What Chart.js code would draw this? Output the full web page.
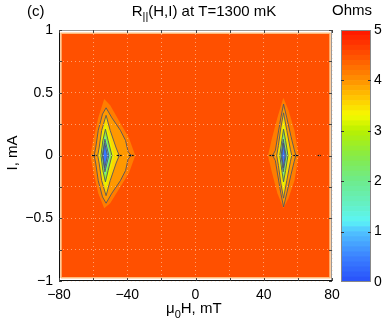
<!DOCTYPE html>
<html>
<head>
<meta charset="utf-8">
<script src="https://cdn.jsdelivr.net/npm/chart.js@4/dist/chart.umd.min.js"></script>
<style>
  html, body { margin: 0; padding: 0; background: #fff; }
  #wrap { position: relative; width: 384px; height: 327px; }
  #main { position: absolute; left: 0; top: 0; }
  #cbar { position: absolute; left: 336px; top: 0; }
</style>
</head>
<body>
<div id="wrap">
  <canvas id="main" width="384" height="327"></canvas>
  <canvas id="cbar" width="48" height="327"></canvas>
</div>
<script>
/* global Chart */

// ---------------------- Data ----------------------

const H_RANGE = [-80, 80];          // mT
const I_RANGE = [-1, 1];            // mA
const R_RANGE = [0, 5];             // Ohms

// plateau value of R over the measured window
const plateauLevel = 4.5;
const plateauCorners = [[-78.8, -0.975], [-78.8, 0.975], [78.8, 0.975], [78.8, -0.975]];

// contour levels, outermost first (Ohms)
const contourLevels = [4.15, 3.95, 3.55, 3.2, 2.6, 1.6, 1.1, 0.4];
const contourLined  = [false, true, true, false, true, false, true, true];

// dip near H = -52 mT
const leftContours = [
  [[-61.5, 0], [-60, 0.12], [-57, 0.3], [-53.5, 0.45], [-50, 0.4], [-45, 0.28], [-39, 0.14], [-35.3, 0],
   [-39, -0.14], [-45, -0.27], [-50, -0.38], [-53.5, -0.42], [-57, -0.3], [-60, -0.12]],
  [[-59.4, 0], [-58.5, 0.06], [-57, 0.2], [-54.5, 0.33], [-52.4, 0.38], [-49, 0.3], [-44, 0.2], [-41, 0.12],
   [-39.5, 0.03], [-37.7, 0], [-39.5, -0.03], [-41, -0.12], [-44, -0.2], [-49, -0.3], [-52.4, -0.38],
   [-54.5, -0.33], [-57, -0.2], [-58.5, -0.06]],
  [[-57.3, 0], [-56.5, 0.06], [-55, 0.2], [-52.4, 0.32], [-50, 0.2], [-46.5, 0.06], [-44.7, 0],
   [-46.5, -0.06], [-50, -0.2], [-52.4, -0.32], [-55, -0.2], [-56.5, -0.06]],
  [[-56, 0], [-54.8, 0.15], [-52.6, 0.26], [-50.5, 0.15], [-47.8, 0], [-50.5, -0.15], [-52.6, -0.26], [-54.8, -0.15]],
  [[-55.4, 0], [-54.3, 0.12], [-52.8, 0.21], [-51.2, 0.12], [-49, 0], [-51.2, -0.12], [-52.8, -0.21], [-54.3, -0.12]],
  [[-55, 0], [-53, 0.16], [-50, 0], [-53, -0.16]],
  [[-54.6, 0], [-53.1, 0.13], [-50.8, 0], [-53.1, -0.13]],
  [[-54.2, 0], [-53.2, 0.1], [-51.6, 0], [-53.2, -0.1]]
];

// dip near H = +52 mT
const rightContours = [
  [[42.5, 0], [44.5, 0.12], [48, 0.3], [51.5, 0.46], [54.5, 0.36], [58, 0.2], [60.5, 0],
   [58, -0.2], [54.5, -0.34], [51.5, -0.42], [48, -0.3], [44.5, -0.12]],
  [[45.2, 0], [46.8, 0.04], [48, 0.14], [50, 0.3], [51.6, 0.41], [53.5, 0.3], [56, 0.15], [57.8, 0.05], [58.8, 0],
   [57.8, -0.05], [56, -0.15], [53.5, -0.3], [51.6, -0.41], [50, -0.3], [48, -0.14], [46.8, -0.04]],
  [[47.6, 0], [48.6, 0.08], [50, 0.22], [51.6, 0.34], [53.5, 0.2], [55.6, 0.05], [56.4, 0],
   [55.6, -0.05], [53.5, -0.2], [51.6, -0.34], [50, -0.22], [48.6, -0.08]],
  [[48.8, 0], [50.2, 0.15], [51.6, 0.27], [53.2, 0.14], [55, 0], [53.2, -0.14], [51.6, -0.27], [50.2, -0.15]],
  [[49.4, 0], [50.6, 0.12], [51.6, 0.21], [52.8, 0.12], [54.2, 0], [52.8, -0.12], [51.6, -0.21], [50.6, -0.12]],
  [[49.9, 0], [51.4, 0.16], [53.6, 0], [51.4, -0.16]],
  [[50.2, 0], [51.4, 0.13], [53.1, 0], [51.4, -0.13]],
  [[50.6, 0], [51.5, 0.1], [52.6, 0], [51.5, -0.1]]
];

// small black contour-label dashes on the I = 0 line
const dashH = [-59.4, -44.7, -37.7, 44.8, 58.8, 72.5];
const dashI = [0, 0, 0, 0, 0, 0];
const dashSize = [2.5, 2.5, 2.5, 2.5, 2.5, 1.5];

// colour bar bands (Ohms)
const cbEdges = [0, 0.1, 0.2, 0.3, 0.4, 0.5, 0.6, 0.7, 0.8, 0.9, 1, 1.1, 1.2, 1.3, 1.4, 1.5, 1.6, 1.7,
  1.8, 1.9, 2, 2.1, 2.2, 2.3, 2.4, 2.5, 2.6, 2.7, 2.8, 2.9, 3, 3.1, 3.2, 3.3, 3.4, 3.5, 3.6, 3.7, 3.8,
  3.9, 4, 4.1, 4.2, 4.3, 4.4, 4.5, 4.6, 4.7, 4.8, 4.9, 5];

// ---------------------- Style helpers ----------------------

const FONT = '"Liberation Sans", Arial, Helvetica, sans-serif';
Chart.defaults.font.family = FONT;
Chart.defaults.color = "#000";

const CMAP = [
  [0.0, [40, 80, 250]],
  [0.5, [60, 130, 255]],
  [1.0, [80, 195, 255]],
  [1.2, [90, 245, 245]],
  [1.5, [100, 240, 200]],
  [2.0, [110, 235, 140]],
  [2.5, [135, 235, 70]],
  [3.0, [185, 240, 0]],
  [3.3, [245, 250, 0]],
  [3.6, [255, 205, 0]],
  [4.0, [255, 145, 0]],
  [4.5, [255, 80, 0]],
  [5.0, [255, 20, 0]]
];

function cmap(v) {
  for (let i = 1; i < CMAP.length; i++) {
    const [v1, c1] = CMAP[i];
    const [v0, c0] = CMAP[i - 1];
    if (v <= v1) {
      const t = Math.max(0, (v - v0) / (v1 - v0));
      const c = c0.map((a, k) => Math.round(a + (c1[k] - a) * t));
      return `rgb(${c[0]}, ${c[1]}, ${c[2]})`;
    }
  }
  const c = CMAP[CMAP.length - 1][1];
  return `rgb(${c[0]}, ${c[1]}, ${c[2]})`;
}

const fmtNum = (v) => (v < 0 ? "\u2212" + Math.abs(v) : String(v));
const toXY = (pts) => pts.concat([pts[0]]).map(([x, y]) => ({ x, y }));

const polygon = (pts, level, lined, order) => ({
  data: toXY(pts),
  showLine: true,
  fill: "shape",
  backgroundColor: cmap(level),
  borderColor: lined ? "rgba(85, 85, 95, 0.9)" : "rgba(0,0,0,0)",
  borderWidth: lined ? 1 : 0,
  pointRadius: 0,
  tension: 0,
  order
});

// ---------------------- Main contour chart ----------------------

const datasets = [
  {
    ...polygon(plateauCorners, plateauLevel, false, 100),
    borderColor: "rgb(255, 185, 120)",
    borderWidth: 1.5
  }
];
[leftContours, rightContours].forEach(group => {
  group.forEach((pts, i) => {
    datasets.push(polygon(pts, contourLevels[i], contourLined[i], 90 - i));
  });
});
datasets.push({
  data: dashH.map((h, i) => ({ x: h, y: dashI[i] })),
  showLine: false,
  pointStyle: "line",
  pointRadius: dashSize,
  borderColor: "#111",
  borderWidth: 1.2,
  order: 0
});

// frame + inward ticks, like a MATLAB box
const framePlugin = {
  id: "frame",
  afterDraw(chart) {
    const { ctx, chartArea: a, scales } = chart;
    ctx.save();
    ctx.lineWidth = 1;
    ctx.strokeStyle = "#999";
    ctx.beginPath();
    ctx.moveTo(a.left + 0.5, a.top + 0.5);
    ctx.lineTo(a.right - 0.5, a.top + 0.5);
    ctx.lineTo(a.right - 0.5, a.bottom - 0.5);
    ctx.stroke();
    ctx.strokeStyle = "#111";
    ctx.beginPath();
    ctx.moveTo(a.left + 0.5, a.top);
    ctx.lineTo(a.left + 0.5, a.bottom - 0.5);
    ctx.lineTo(a.right, a.bottom - 0.5);
    ctx.stroke();
    ctx.strokeStyle = "#444";
    ctx.beginPath();
    scales.x.ticks.forEach(t => {
      const px = Math.round(scales.x.getPixelForValue(t.value)) + 0.5;
      ctx.moveTo(px, a.bottom); ctx.lineTo(px, a.bottom - 3);
      ctx.moveTo(px, a.top); ctx.lineTo(px, a.top + 3);
    });
    scales.y.ticks.forEach(t => {
      const py = Math.round(scales.y.getPixelForValue(t.value)) + 0.5;
      ctx.moveTo(a.left, py); ctx.lineTo(a.left + 3, py);
      ctx.moveTo(a.right, py); ctx.lineTo(a.right - 3, py);
    });
    ctx.stroke();
    ctx.restore();
  }
};

// titles with sub-scripts
const textPlugin = {
  id: "texts",
  afterDraw(chart) {
    const ctx = chart.ctx;
    const big = `15px ${FONT}`;
    const small = `11px ${FONT}`;
    ctx.save();
    ctx.fillStyle = "#000";
    ctx.textBaseline = "alphabetic";
    ctx.textAlign = "left";

    ctx.font = big;
    ctx.fillText("(c)", 27, 16);

    // R_||(H,I) at T=1300 mK
    ctx.font = big;
    const wR = ctx.measureText("R").width;
    const wRest = ctx.measureText("(H,I) at T=1300 mK").width;
    ctx.font = small;
    const wSub = ctx.measureText("||").width;
    let x = 204 - (wR + wSub + wRest) / 2;
    ctx.font = big; ctx.fillText("R", x, 16); x += wR;
    ctx.font = small; ctx.fillText("||", x, 20); x += wSub;
    ctx.font = big; ctx.fillText("(H,I) at T=1300 mK", x, 16);

    ctx.font = big;
    ctx.textAlign = "center";
    ctx.fillText("Ohms", 352, 15);

    // mu_0 H, mT
    ctx.textAlign = "left";
    let xx = 166;
    ctx.font = big; ctx.fillText("\u03bc", xx, 313); xx += ctx.measureText("\u03bc").width;
    ctx.font = small; ctx.fillText("0", xx, 318); xx += ctx.measureText("0").width;
    ctx.font = big; ctx.fillText("H, mT", xx, 313);

    // I, mA
    ctx.translate(17, 153);
    ctx.rotate(-Math.PI / 2);
    ctx.textAlign = "center";
    ctx.fillText("I, mA", 0, 0);
    ctx.restore();
  }
};

const gridOpts = { color: "rgba(255, 215, 185, 0.6)", drawTicks: false, z: 1 };

new Chart(document.getElementById("main"), {
  type: "scatter",
  data: { datasets },
  options: {
    responsive: false,
    animation: false,
    layout: { padding: { left: 0, right: 52, top: 30, bottom: 0 } },
    plugins: { legend: { display: false }, tooltip: { enabled: false } },
    scales: {
      x: {
        type: "linear",
        min: H_RANGE[0], max: H_RANGE[1],
        afterFit: s => { s.height = 46; },
        ticks: {
          stepSize: 20, padding: 6, autoSkip: false, maxRotation: 0,
          font: { size: 14 }, color: "#000",
          callback: v => (v % 40 === 0 ? fmtNum(v) : "")
        },
        grid: gridOpts,
        border: { display: false, dash: [1, 3] }
      },
      y: {
        type: "linear",
        min: I_RANGE[0], max: I_RANGE[1],
        afterFit: s => { s.width = 59; },
        ticks: {
          stepSize: 0.25, padding: 6, autoSkip: false,
          font: { size: 14 }, color: "#000",
          callback: v => (Math.abs(v * 2 - Math.round(v * 2)) < 1e-9 ? fmtNum(v) : "")
        },
        grid: gridOpts,
        border: { display: false, dash: [1, 3] }
      }
    }
  },
  plugins: [framePlugin, textPlugin]
});

// ---------------------- Colour bar ----------------------

const cbDatasets = cbEdges.slice(0, -1).map((lo, i) => ({
  data: [[lo, cbEdges[i + 1]]],
  backgroundColor: cmap((lo + cbEdges[i + 1]) / 2),
  borderWidth: 0,
  barPercentage: 1,
  categoryPercentage: 1
}));

const cbFramePlugin = {
  id: "cbframe",
  afterDraw(chart) {
    const { ctx, chartArea: a, scales } = chart;
    ctx.save();
    ctx.strokeStyle = "#888";
    ctx.lineWidth = 1;
    ctx.strokeRect(a.left + 0.5, a.top + 0.5, a.right - a.left - 1, a.bottom - a.top - 1);
    ctx.strokeStyle = "#333";
    ctx.beginPath();
    scales.y.ticks.forEach(t => {
      const py = Math.round(scales.y.getPixelForValue(t.value)) + 0.5;
      if (t.value === R_RANGE[0] || t.value === R_RANGE[1]) return;
      ctx.moveTo(a.left, py); ctx.lineTo(a.left + 3, py);
      ctx.moveTo(a.right, py); ctx.lineTo(a.right - 3, py);
    });
    ctx.stroke();
    ctx.restore();
  }
};

new Chart(document.getElementById("cbar"), {
  type: "bar",
  data: { labels: ["R"], datasets: cbDatasets },
  options: {
    responsive: false,
    animation: false,
    layout: { padding: { left: 5, right: 0, top: 30, bottom: 45 } },
    plugins: { legend: { display: false }, tooltip: { enabled: false } },
    scales: {
      x: { display: false, stacked: true },
      y: {
        position: "right",
        stacked: false,
        min: R_RANGE[0], max: R_RANGE[1],
        afterFit: s => { s.width = 13; },
        ticks: { stepSize: 1, padding: 3, font: { size: 14 }, color: "#000" },
        grid: { display: false, drawTicks: false },
        border: { display: false }
      }
    }
  },
  plugins: [cbFramePlugin]
});
</script>
</body>
</html>
